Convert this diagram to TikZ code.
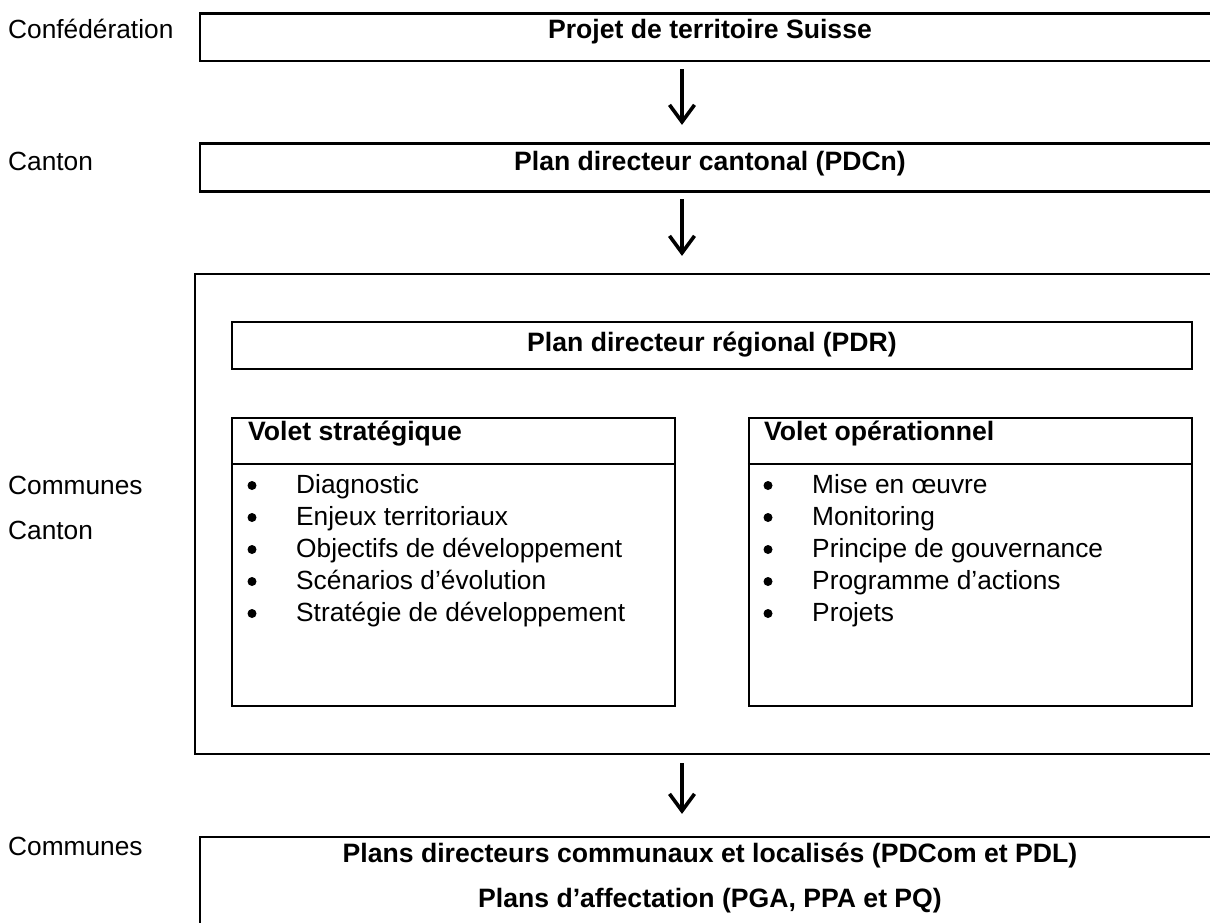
\documentclass[tikz,border=0pt]{standalone}
\usepackage{fontspec}
\setmainfont{Liberation Sans}
\usetikzlibrary{arrows.meta}
\begin{document}
\begin{tikzpicture}[x=1pt,y=-1pt,
  box/.style={draw, line width=2.2pt, rectangle, inner sep=0pt},
  lbl/.style={font=\fontsize{26.3}{31}\selectfont, inner sep=0pt, anchor=base west},
  ttl/.style={font=\fontsize{26.6}{31}\selectfont\bfseries, inner sep=0pt, anchor=base},
  hdr/.style={font=\fontsize{26.6}{31}\selectfont\bfseries, inner sep=0pt, anchor=base west},
  itm/.style={font=\fontsize{26.3}{31}\selectfont, inner sep=0pt, anchor=base west},
  bul/.style={circle, fill=black, inner sep=0pt, minimum size=9pt},
  flow/.style={line width=3.6pt, -{Straight Barb[length=17pt,width=25pt,line width=3.6pt]}}]
\useasboundingbox (0,0) rectangle (1210,922);
\clip (0,0) rectangle (1210,922);

% boxes
\node[box, minimum width=1016pt, minimum height=47.5pt] (b1) at (708,37.25) {};
\node[box, minimum width=1016pt, minimum height=48pt] (b2) at (708,167.5) {};
\node[box, minimum width=1030pt, minimum height=480pt] (big) at (710,514) {};
\node[box, minimum width=960pt, minimum height=47pt] (pdr) at (712,345.5) {};
\node[box, minimum width=443pt, minimum height=288pt] (vs) at (453.5,562) {};
\node[box, minimum width=443pt, minimum height=288pt] (vo) at (970.5,562) {};
\node[box, minimum width=1016pt, minimum height=124pt] (b3) at (708,899) {};
\draw[line width=2.2pt] ([yshift=-47pt]vs.north west) -- ([yshift=-47pt]vs.north east);
\draw[line width=2.2pt] ([yshift=-47pt]vo.north west) -- ([yshift=-47pt]vo.north east);

% left labels
\node[lbl] (l1) at (8,38) {Confédération};
\node[lbl] (l2) at (8,170) {Canton};
\node[lbl] (l3) at (8,494) {Communes};
\node[lbl] (l4) at (8,539) {Canton};
\node[lbl] (l5) at (8,855) {Communes};

% titles
\node[ttl] (t1) at (710,38) {Projet de territoire Suisse};
\node[ttl] (t2) at (710,170) {Plan directeur cantonal (PDCn)};
\node[ttl] (t3) at (712,351) {Plan directeur régional (PDR)};
\node[ttl] (t4) at (710,862) {Plans directeurs communaux et localisés (PDCom et PDL)};
\node[ttl] (t5) at (710,907) {Plans d’affectation (PGA, PPA et PQ)};

% volet headers
\node[hdr] (hs) at (248,440) {Volet stratégique};
\node[hdr] (ho) at (764,440) {Volet opérationnel};

% items
\foreach \t [count=\i] in {Diagnostic, Enjeux territoriaux, Objectifs de développement, Scénarios d’évolution, Stratégie de développement}{
  \node[bul] (sb\i) at (252,485.5+32*\i-32) {};
  \node[itm] (si\i) at (296,493+32*\i-32) {\t};
}
\foreach \t [count=\i] in {Mise en œuvre, Monitoring, Principe de gouvernance, Programme d’actions, Projets}{
  \node[bul] (ob\i) at (768,485.5+32*\i-32) {};
  \node[itm] (oi\i) at (812,493+32*\i-32) {\t};
}

% arrows
\coordinate (ax) at (682,0);
\draw[flow, shorten <=7pt, shorten >=17.5pt] (b1.south -| ax) -- (b2.north -| ax);
\draw[flow, shorten <=6.5pt, shorten >=17pt] (b2.south -| ax) -- (big.north -| ax);
\draw[flow, shorten <=8pt, shorten >=22pt] (big.south -| ax) -- (b3.north -| ax);
\end{tikzpicture}
\end{document}
